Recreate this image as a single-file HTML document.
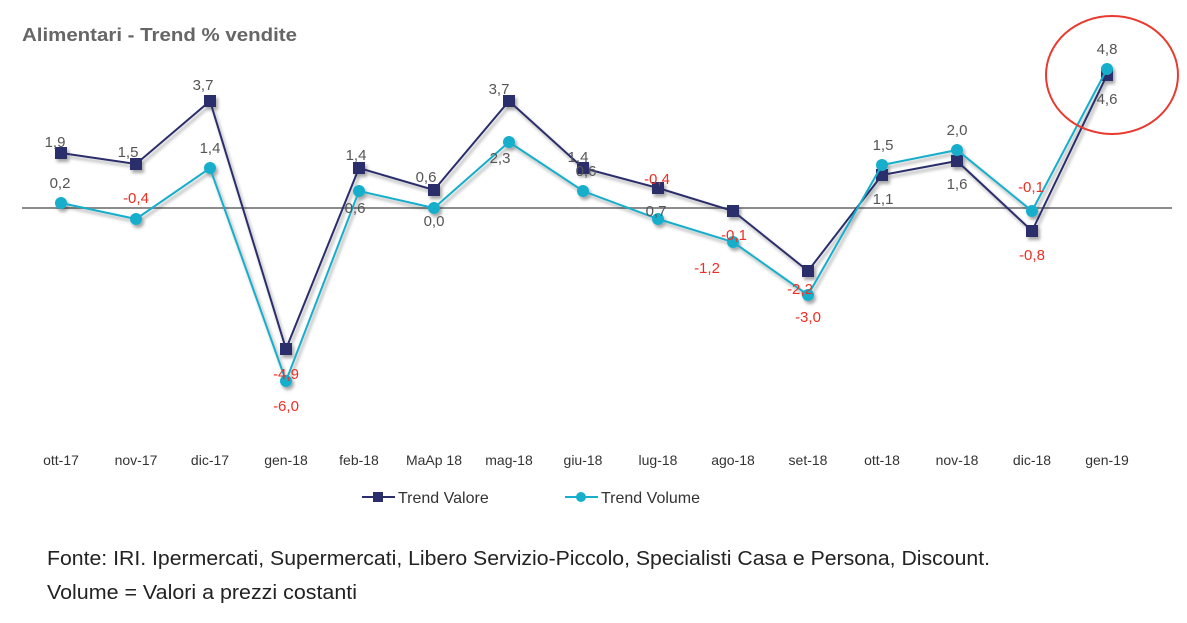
<!DOCTYPE html>
<html><head><meta charset="utf-8"><style>
body{margin:0;background:#fff;width:1187px;height:623px;overflow:hidden}
svg{display:block;font-family:"Liberation Sans",Arial,sans-serif}
</style></head><body>
<svg width="1187" height="623" viewBox="0 0 1187 623">
<defs><filter id="sh" x="-5%" y="-5%" width="110%" height="110%"><feDropShadow dx="2" dy="3" stdDeviation="1.5" flood-color="#000" flood-opacity="0.35"/></filter></defs>
<text x="22" y="41" font-size="18" font-weight="bold" fill="#666" textLength="275" lengthAdjust="spacingAndGlyphs">Alimentari - Trend % vendite</text>
<line x1="22" y1="208" x2="1172" y2="208" stroke="#8c8c8c" stroke-width="2"/>
<g filter="url(#sh)">
<polyline fill="none" stroke="#2a2f6b" stroke-width="2" points="61,153 136,164 210,101 286,349 359,168 434,190 509,101 583,168 658,188 733,211 808,271 882,175 957,161 1032,231 1107,75"/>
<g fill="#2a2f6b">
<rect x="55" y="147" width="12" height="12"/><rect x="130" y="158" width="12" height="12"/><rect x="204" y="95" width="12" height="12"/><rect x="280" y="343" width="12" height="12"/><rect x="353" y="162" width="12" height="12"/><rect x="428" y="184" width="12" height="12"/><rect x="503" y="95" width="12" height="12"/><rect x="577" y="162" width="12" height="12"/><rect x="652" y="182" width="12" height="12"/><rect x="727" y="205" width="12" height="12"/><rect x="802" y="265" width="12" height="12"/><rect x="876" y="169" width="12" height="12"/><rect x="951" y="155" width="12" height="12"/><rect x="1026" y="225" width="12" height="12"/><rect x="1101" y="69" width="12" height="12"/>
</g>
<polyline fill="none" stroke="#19aecb" stroke-width="2" points="61,203 136,219 210,168 286,381 359,191 434,208 509,142 583,191 658,219 733,242 808,295 882,165 957,150 1032,211 1107,69"/>
<g fill="#19aecb">
<circle cx="61" cy="203" r="6"/><circle cx="136" cy="219" r="6"/><circle cx="210" cy="168" r="6"/><circle cx="286" cy="381" r="6"/><circle cx="359" cy="191" r="6"/><circle cx="434" cy="208" r="6"/><circle cx="509" cy="142" r="6"/><circle cx="583" cy="191" r="6"/><circle cx="658" cy="219" r="6"/><circle cx="733" cy="242" r="6"/><circle cx="808" cy="295" r="6"/><circle cx="882" cy="165" r="6"/><circle cx="957" cy="150" r="6"/><circle cx="1032" cy="211" r="6"/><circle cx="1107" cy="69" r="6"/>
</g>
</g>
<g font-size="15" text-anchor="middle" fill="#555">
<text x="55" y="147">1,9</text><text x="60" y="188">0,2</text><text x="128" y="157">1,5</text><text x="203" y="90">3,7</text><text x="210" y="153">1,4</text>
<text x="356" y="160">1,4</text><text x="355" y="213">0,6</text><text x="426" y="182">0,6</text><text x="434" y="226">0,0</text><text x="499" y="94">3,7</text><text x="500" y="163">2,3</text>
<text x="578" y="162">1,4</text><text x="586" y="176">0,6</text><text x="656" y="216">0,7</text><text x="883" y="150">1,5</text><text x="883" y="204">1,1</text><text x="957" y="135">2,0</text><text x="957" y="189">1,6</text><text x="1107" y="54">4,8</text><text x="1107" y="104">4,6</text>
</g>
<g font-size="15" text-anchor="middle" fill="#ee2e24">
<text x="136" y="203">-0,4</text><text x="286" y="379">-4,9</text><text x="286" y="411">-6,0</text><text x="657" y="184">-0,4</text><text x="734" y="240">-0,1</text><text x="707" y="273">-1,2</text><text x="800" y="294">-2,2</text><text x="808" y="322">-3,0</text><text x="1031" y="192">-0,1</text><text x="1032" y="260">-0,8</text>
</g>
<g font-size="14" text-anchor="middle" fill="#333">
<text x="61" y="465">ott-17</text><text x="136" y="465">nov-17</text><text x="210" y="465">dic-17</text><text x="286" y="465">gen-18</text><text x="359" y="465">feb-18</text><text x="434" y="465">MaAp 18</text><text x="509" y="465">mag-18</text><text x="583" y="465">giu-18</text><text x="658" y="465">lug-18</text><text x="733" y="465">ago-18</text><text x="808" y="465">set-18</text><text x="882" y="465">ott-18</text><text x="957" y="465">nov-18</text><text x="1032" y="465">dic-18</text><text x="1107" y="465">gen-19</text>
</g>
<line x1="362" y1="497" x2="395" y2="497" stroke="#2a2f6b" stroke-width="2"/><rect x="373" y="492" width="10" height="10" fill="#2a2f6b"/>
<text x="398" y="503" font-size="16" fill="#333">Trend Valore</text>
<line x1="565" y1="497" x2="598" y2="497" stroke="#19aecb" stroke-width="2"/><circle cx="581" cy="497" r="5" fill="#19aecb"/>
<text x="601" y="503" font-size="16" fill="#333">Trend Volume</text>
<ellipse cx="1112" cy="75" rx="66" ry="59" fill="none" stroke="#e83a2e" stroke-width="2"/>
<text x="47" y="565" font-size="20" fill="#222" textLength="943" lengthAdjust="spacingAndGlyphs">Fonte: IRI. Ipermercati, Supermercati, Libero Servizio-Piccolo, Specialisti Casa e Persona, Discount.</text>
<text x="47" y="599" font-size="20" fill="#222" textLength="310" lengthAdjust="spacingAndGlyphs">Volume = Valori a prezzi costanti</text>
</svg>
</body></html>
